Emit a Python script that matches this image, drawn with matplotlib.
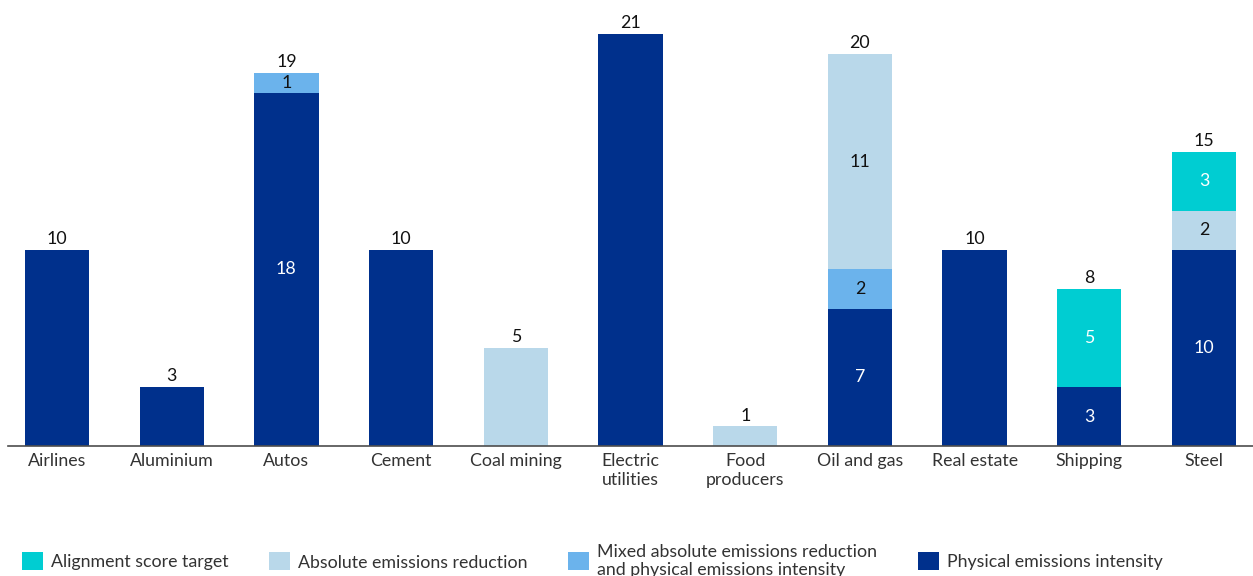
import matplotlib.pyplot as plt
import numpy as np

plt.rcParams['font.family'] = ['Lato', 'DejaVu Sans']

sectors = ['Airlines', 'Aluminium', 'Autos', 'Cement', 'Coal mining',
           'Electric\nutilities', 'Food\nproducers', 'Oil and gas',
           'Real estate', 'Shipping', 'Steel']

# stacked bottom to top
physical = [10, 3, 18, 10, 0, 21, 0, 7, 10, 3, 10]
mixed = [0, 0, 1, 0, 0, 0, 0, 2, 0, 0, 0]
absolute = [0, 0, 0, 0, 5, 0, 1, 11, 0, 0, 2]
alignment = [0, 0, 0, 0, 0, 0, 0, 0, 0, 5, 3]

series = [
    ('Physical emissions intensity', physical, '#00308C', 'white'),
    ('Mixed absolute emissions reduction\nand physical emissions intensity', mixed, '#6BB3EC', '#111111'),
    ('Absolute emissions reduction', absolute, '#B9D8EA', '#111111'),
    ('Alignment score target', alignment, '#00CDD2', 'white'),
]

fs = 12.8

fig = plt.figure(figsize=(12.53, 5.76), dpi=100)
ax = fig.add_axes([8 / 1253, 130 / 576, 1 - 8 / 1253, 0.7494])

x = np.arange(len(sectors))
width = 0.56
bottom = np.zeros(len(sectors))
nseg = sum((np.array(s[1]) > 0).astype(int) for s in series)
bars = {}
for name, vals, col, tcol in series:
    vals = np.array(vals)
    b = ax.bar(x, vals, width, bottom=bottom, color=col, label=name, linewidth=0)
    bars[name] = b
    for i, v in enumerate(vals):
        if v > 0 and nseg[i] > 1:
            ax.text(x[i], bottom[i] + v / 2, str(v), ha='center', va='center',
                    color=tcol, fontsize=fs)
    bottom = bottom + vals

for i, t in enumerate(bottom):
    ax.annotate(str(int(t)), (x[i], t), xytext=(0, 2), textcoords='offset points',
                ha='center', va='bottom', fontsize=fs, color='#111111')

ax.set_xlim(-0.427, 10.427)
ax.set_ylim(0, 22)
ax.set_xticks(x)
ax.set_xticklabels(sectors, fontsize=fs, color='#333333', linespacing=1.2)
ax.tick_params(axis='x', length=0, pad=5)
ax.set_yticks([])
for s in ['top', 'right', 'left']:
    ax.spines[s].set_visible(False)
ax.spines['bottom'].set_color('#4d4d4d')
ax.spines['bottom'].set_linewidth(1.2)

order = ['Alignment score target', 'Absolute emissions reduction',
         'Mixed absolute emissions reduction\nand physical emissions intensity',
         'Physical emissions intensity']
fig.legend([bars[k] for k in order], order, loc='center left',
           bbox_to_anchor=(0.0045, 1 - 561 / 576), ncol=4, frameon=False,
           fontsize=fs, handlelength=1.18, handleheight=1.18,
           handletextpad=0.45, columnspacing=2.3, labelcolor='#333333')

plt.savefig('out.png', dpi=100)
